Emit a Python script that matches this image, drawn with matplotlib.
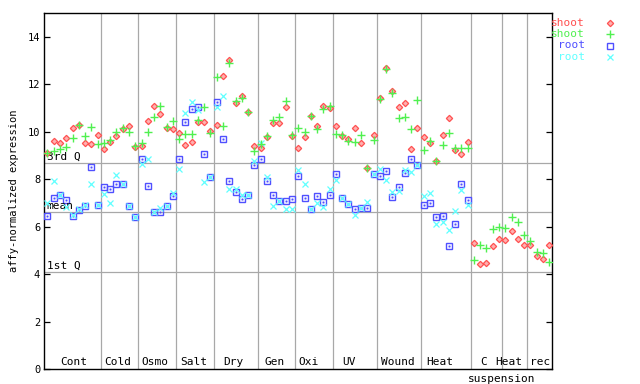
import matplotlib
matplotlib.use("Agg")
import matplotlib.pyplot as plt
from matplotlib.lines import Line2D
import numpy as np

# shoot replicate 1 (red) and 2 (green), 81 samples
shoot_a = [9.12, 9.60, 9.52, 9.73, 10.15, 10.29, 9.52, 9.49, 9.86,
           9.29, 9.57, 9.81, 10.11, 10.24, 9.38,
           9.42, 10.44, 11.08, 10.74, 10.16, 10.12,
           9.95, 9.45, 9.56, 10.40, 10.40, 10.02,
           10.28, 12.34, 13.02, 11.22, 11.50, 10.83, 9.39,
           9.32, 9.80, 10.36, 10.36, 11.04, 9.84,
           9.32, 9.77, 10.67, 10.24, 11.09, 10.99,
           10.24, 9.84, 9.69, 10.16, 9.52, 8.47, 9.86,
           11.42, 12.68, 11.73, 11.04, 11.21, 9.27, 10.15,
           9.79, 9.53, 8.76, 9.87, 10.57, 9.22, 9.05, 9.56,
           5.30, 4.43, 4.46, 5.17, 5.47,
           5.43, 5.81, 5.47, 5.22,
           5.22, 4.75, 4.65, 5.22]
shoot_b = [9.12, 9.19, 9.27, 9.35, 9.73, 10.29, 9.81, 10.19, 9.47,
           9.52, 9.66, 9.98, 10.15, 9.98, 9.40,
           9.55, 10.00, 10.61, 11.08, 10.21, 10.44,
           9.69, 9.90, 9.93, 10.50, 11.04, 9.95,
           12.30, 10.24, 12.91, 11.30, 11.44, 10.83, 9.18,
           9.50, 9.81, 10.50, 10.61, 11.30, 9.87,
           10.15, 10.00, 10.67, 10.11, 10.95, 11.08,
           9.90, 9.87, 9.63, 9.59, 9.86, 8.47, 9.65,
           11.39, 12.64, 11.63, 10.59, 10.62, 10.12, 11.35,
           9.22, 9.62, 8.76, 9.45, 9.94, 9.31, 9.31, 9.31,
           4.58, 5.22, 5.09, 5.89, 5.99,
           5.93, 6.40, 6.19, 5.64,
           5.39, 4.93, 4.90, 4.53]
# root replicate 1 (blue) and 2 (cyan), first 68 samples only
root_a = [6.45, 7.20, 7.33, 7.11, 6.45, 6.72, 6.89, 8.51, 6.90,
          7.66, 7.58, 7.79, 7.80, 6.86, 6.40,
          8.84, 7.71, 6.61, 6.61, 6.89, 7.28,
          8.84, 10.40, 10.95, 11.04, 9.05, 8.08,
          11.25, 9.70, 7.91, 7.45, 7.16, 7.35, 8.59,
          8.84, 7.94, 7.32, 7.07, 7.07, 7.16,
          8.13, 7.20, 6.76, 7.28, 7.04, 7.34,
          8.22, 7.22, 6.97, 6.73, 6.80, 6.78, 8.21,
          8.12, 8.33, 7.24, 7.66, 8.25, 8.84, 8.62,
          6.90, 6.99, 6.40, 6.44, 5.17, 6.10, 7.79, 7.11]
root_b = [6.99, 7.92, 7.33, 6.85, 6.51, 6.75, 6.90, 7.79, 6.90,
          7.37, 6.99, 8.17, 7.80, 6.86, 6.40,
          8.63, 8.84, 6.61, 6.78, 6.89, 7.44,
          8.44, 10.78, 11.25, 10.94, 7.87, 8.08,
          11.06, 11.50, 7.58, 7.58, 7.35, 7.35, 8.76,
          9.55, 8.11, 6.86, 7.07, 6.74, 6.74,
          8.40, 7.79, 6.76, 6.99, 6.82, 7.59,
          7.97, 7.22, 6.97, 6.48, 6.80, 7.04, 8.21,
          8.42, 7.96, 7.45, 7.49, 8.39, 8.29, 8.62,
          7.28, 7.41, 6.10, 6.19, 5.85, 6.65, 7.54, 6.90]

group_names = ["Cont", "Cold", "Osmo", "Salt", "Dry", "Gen", "Oxi", "UV",
               "Wound", "Heat", "C", "Heat", "rec"]
group_label_pos = [4.27, 11.26, 17.16, 23.25, 29.68, 36.27, 41.56, 48.1,
                   55.84, 62.49, 69.59, 73.54, 78.6]
group_bounds = [8.5, 14.5, 20.5, 26.5, 33.5, 39.5, 45.5, 52.5, 59.5, 67.5, 72.5, 76.5]

q3, q_mean, q1 = 8.68, 6.62, 4.09

red = "#ff5050"
green = "#50f050"
blue = "#5050ff"
cyan = "#60ffff"
grey = "#a8a8a8"
mono = "DejaVu Sans Mono"

fig = plt.figure(figsize=(6.4, 3.84), dpi=100)
ax = fig.add_axes([44.3 / 640, 15 / 384, 508 / 640, 355.7 / 384])

xs = np.arange(len(shoot_a))
xr = np.arange(len(root_a))

for b in group_bounds:
    ax.axvline(b, color=grey, lw=0.9, zorder=1)
for q in (q3, q_mean, q1):
    ax.axhline(q, color=grey, lw=0.9, zorder=1)

ax.plot(xr, root_a, ls="none", marker="s", ms=4.4, mfc="none", mec=blue, mew=1.0, zorder=3)
ax.plot(xr, root_a, ls="none", marker="s", ms=1.0, mfc=blue, mec=blue, mew=0.3, zorder=3)
ax.plot(xr, root_b, ls="none", marker="x", ms=4.6, mec=cyan, mew=0.9, zorder=4)
ax.plot(xs, shoot_a, ls="none", marker="D", ms=3.2, mfc="#ffb0b0", mec=red, mew=0.9, zorder=5)
ax.plot(xs, shoot_b, ls="none", marker="+", ms=5.2, mec=green, mew=1.0, zorder=6)

ax.set_xlim(-0.5, 80.5)
ax.set_ylim(0, 15)
ax.set_xticks([])
ax.set_yticks(range(0, 15, 2))
ax.tick_params(axis="y", direction="in", length=4, width=0.9, right=True,
               labelsize=7.5, pad=3)
for lab in ax.get_yticklabels():
    lab.set_family(mono)
for s in ax.spines.values():
    s.set_linewidth(1.0)

ax.text(0.005, q3 + 0.05, "3rd Q", family=mono, fontsize=8, va="bottom", ha="left",
        transform=ax.get_yaxis_transform())
ax.text(0.005, q_mean + 0.05, "mean", family=mono, fontsize=8, va="bottom", ha="left",
        transform=ax.get_yaxis_transform())
ax.text(0.005, q1 + 0.05, "1st Q", family=mono, fontsize=8, va="bottom", ha="left",
        transform=ax.get_yaxis_transform())

for name, pos in zip(group_names, group_label_pos):
    ax.text(pos, 0.08, name, family=mono, fontsize=8, ha="center", va="bottom")
ax.text(72.5, -0.2, "suspension", family=mono, fontsize=8, ha="center", va="top",
        clip_on=False)

ax.set_ylabel("affy-normalized expression", family=mono, fontsize=7.5, labelpad=6)

# legend to the right of the plot
legend_items = [("shoot", red, dict(marker="D", ms=3.2, mfc="#ffb0b0", mec=red, mew=0.9)),
                ("shoot", green, dict(marker="+", ms=5.2, mec=green, mew=1.0)),
                ("root", blue, dict(marker="s", ms=4.4, mfc="none", mec=blue, mew=1.0)),
                ("root", cyan, dict(marker="x", ms=4.6, mec=cyan, mew=0.9))]
for k, (txt, col, mk) in enumerate(legend_items):
    yy = 1 - (23.3 + k * 11.1) / 384
    fig.text(585 / 640, yy, txt, color=col, family=mono, fontsize=8, ha="right", va="center")
    fig.add_artist(Line2D([610 / 640], [yy], ls="none", **mk))

fig.savefig("out.png", dpi=100)
